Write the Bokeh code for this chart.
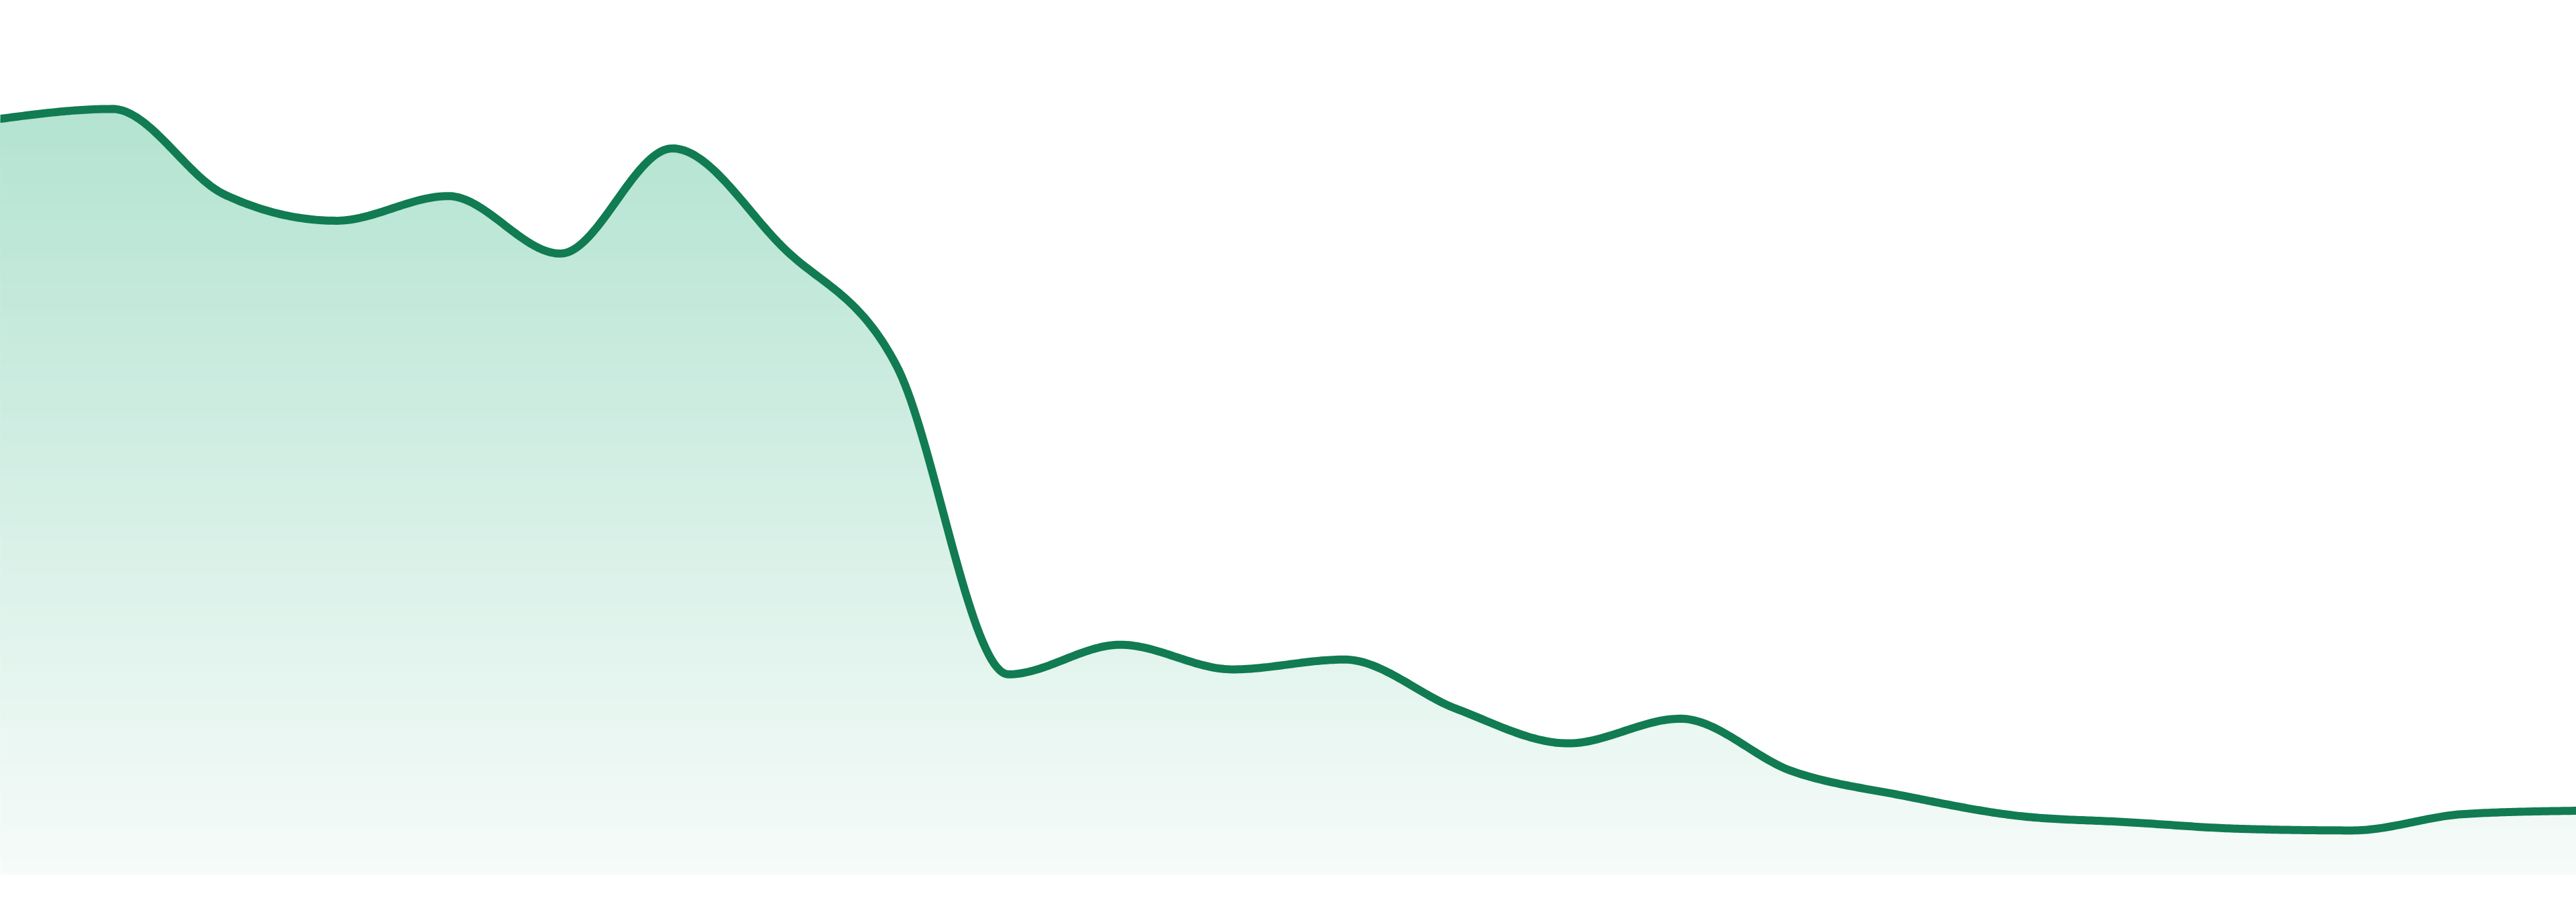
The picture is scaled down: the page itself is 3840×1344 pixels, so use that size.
import numpy as np
from bokeh.plotting import figure
from bokeh.models import Range1d
from bokeh.embed import file_html
from bokeh.resources import INLINE

# ---- data ----
periods = list(range(24))
values = [460, 466, 414, 398, 413, 378, 442, 381, 310, 122, 140, 125,
          131, 101, 80, 95, 63, 48, 36, 32, 28, 27, 37, 39]

line_color = "#117b52"
fill_top = (179, 227, 209)
fill_bottom = (246, 251, 249)
fill_top_value = 467.0


def monotone_curve(xs, ys, steps=40):
    xs = np.asarray(xs, float)
    ys = np.asarray(ys, float)
    n = len(xs)
    h = np.diff(xs)
    s = np.diff(ys) / h
    t = np.zeros(n)
    for i in range(1, n - 1):
        s0, s1 = s[i - 1], s[i]
        p = (s0 * h[i] + s1 * h[i - 1]) / (h[i - 1] + h[i])
        t[i] = (np.sign(s0) + np.sign(s1)) * min(abs(s0), abs(s1), 0.5 * abs(p))
    t[0] = (3 * s[0] - t[1]) / 2
    t[-1] = (3 * s[-1] - t[-2]) / 2
    px, py = [], []
    u = np.linspace(0, 1, steps)
    for i in range(n - 1):
        dx = h[i] / 3
        p0 = (xs[i], ys[i])
        p1 = (xs[i] + dx, ys[i] + dx * t[i])
        p2 = (xs[i + 1] - dx, ys[i + 1] - dx * t[i + 1])
        p3 = (xs[i + 1], ys[i + 1])
        uu = u if i == 0 else u[1:]
        a = (1 - uu) ** 3
        b = 3 * (1 - uu) ** 2 * uu
        c = 3 * (1 - uu) * uu ** 2
        d = uu ** 3
        px.extend(a * p0[0] + b * p1[0] + c * p2[0] + d * p3[0])
        py.extend(a * p0[1] + b * p1[1] + c * p2[1] + d * p3[1])
    return np.array(px), np.array(py)


cx, cy = monotone_curve(periods, values)

p = figure(width=3840, height=1344, output_backend="svg", toolbar_location=None,
           x_range=Range1d(0, 23),
           y_range=Range1d(-16.74, 532.1),
           min_border=0, background_fill_color="white", border_fill_color="white")
p.axis.visible = False
p.grid.visible = False
p.outline_line_color = None

# vertical gradient fill built from stacked layers
n_bands = 110
band_h = fill_top_value / n_bands
for k in range(n_bands):
    lo = k * band_h
    mid = min(lo + band_h / 2, fill_top_value)
    f = mid / fill_top_value
    col = tuple(int(round(fill_bottom[j] + f * (fill_top[j] - fill_bottom[j]))) for j in range(3))
    hexcol = "#%02x%02x%02x" % col
    if not np.any(cy > lo):
        continue
    top = np.where(cy > lo, cy, lo)
    p.varea(x=cx, y1=np.full_like(cy, lo), y2=top, fill_color=hexcol, fill_alpha=1.0)

p.line(cx, cy, line_color=line_color, line_width=12, line_join="round", line_cap="round")

open("out.html", "w").write(file_html(p, INLINE))
